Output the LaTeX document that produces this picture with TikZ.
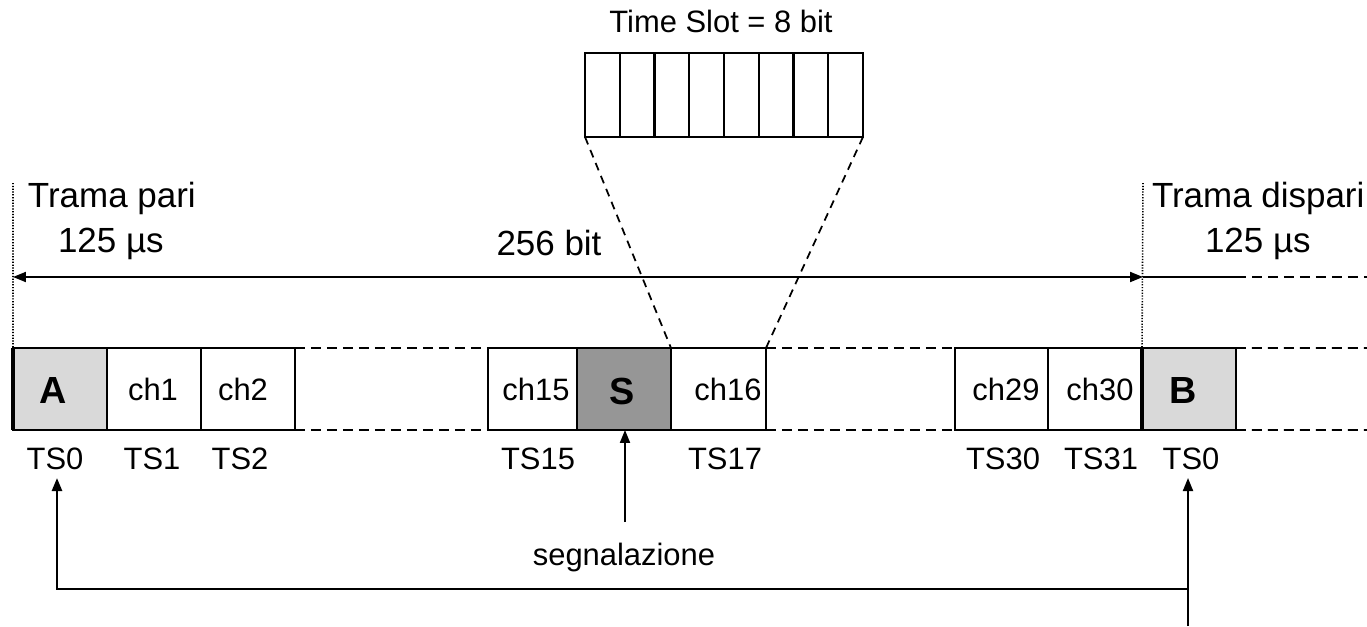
\documentclass[tikz,border=0pt]{standalone}
\usepackage{fontspec}
\setmainfont{Liberation Sans}
\usetikzlibrary{arrows.meta}
\begin{document}
\begin{tikzpicture}[x=0.02cm,y=-0.02cm,
  every node/.style={inner sep=0pt,outer sep=0pt},
  bigtext/.style={font=\fontsize{19.9pt}{24pt}\selectfont},
  smalltext/.style={font=\fontsize{17.6pt}{21pt}\selectfont},
  slotname/.style={font=\fontsize{21.5pt}{25pt}\selectfont\bfseries},
  slotbox/.style={draw,line width=1.1pt,minimum height=1.64cm,minimum width=1.88cm},
  framebox/.style={slotbox,fill=black!15},
  sigbox/.style={slotbox,fill=black!41},
  gap/.style={line width=1.1pt,dash pattern=on 0.2cm off 0.12cm},
  boundary/.style={line width=0.9pt,dash pattern=on 0.7pt off 0.9pt},
  zoomline/.style={line width=1pt,dash pattern=on 0.16cm off 0.12cm},
  tip/.style={-{Triangle[length=0.26cm,width=0.2cm]}},
  link/.style={line width=1.1pt}]
\useasboundingbox (0,0) rectangle (1367,626);

% one 8-bit time slot
\node[draw,line width=1.1pt,minimum width=5.56cm,minimum height=1.68cm] (bits) at (724,95) {};
\foreach \i in {1,...,7}
  \draw[line width=1.2pt] (585+\i*34.75,53) -- (585+\i*34.75,137);
\node[smalltext,anchor=base] (bitslabel) at (721,32) {Time Slot = 8 bit};

% frame boundaries
\coordinate (topL) at (13,183);
\coordinate (topR) at (1143,183);

% slots of the frame
\node[framebox] (A)    at (60,389) {};
\node[slotbox]  (c1)   at (154,389) {};
\node[slotbox]  (c2)   at (248,389) {};
\node[slotbox,minimum width=1.78cm] (c15) at (532.5,389) {};
\node[sigbox]   (S)    at (624,389) {};
\node[slotbox,minimum width=1.90cm] (c16) at (718.5,389) {};
\node[slotbox,minimum width=1.86cm] (c29) at (1001.5,389) {};
\node[slotbox]  (c30)  at (1095,389) {};
\node[framebox] (B)    at (1189,389) {};

\draw[line width=2pt] (A.north west) -- (A.south west);
\draw[line width=2pt] (c30.north east) -- (c30.south east);

% omitted slots
\draw[gap] (c2.north east) -- (c15.north west);
\draw[gap] (c2.south east) -- (c15.south west);
\draw[gap] (c16.north east) -- (c29.north west);
\draw[gap] (c16.south east) -- (c29.south west);
\coordinate (endT) at (1367,348);
\coordinate (endB) at (1367,430);
\draw[gap] (B.north east) -- (endT);
\draw[gap] (B.south east) -- (endB);

% slot contents
\node[slotname] at (53,391) {A};
\node[smalltext] at (153,389) {ch1};
\node[smalltext] at (243,389) {ch2};
\node[smalltext] at (536,389) {ch15};
\node[slotname] at (622,391) {S};
\node[smalltext] at (728,389) {ch16};
\node[smalltext] at (1006,389) {ch29};
\node[smalltext] at (1100,389) {ch30};
\node[slotname] at (1183,391) {B};

% slot names
\node[smalltext,anchor=base] (ts0)  at (55,469) {TS0};
\node[smalltext,anchor=base] (ts1)  at (152,469) {TS1};
\node[smalltext,anchor=base] (ts2)  at (240,469) {TS2};
\node[smalltext,anchor=base] (ts15) at (538,469) {TS15};
\node[smalltext,anchor=base] (ts17) at (725,469) {TS17};
\node[smalltext,anchor=base] (ts30) at (1003,469) {TS30};
\node[smalltext,anchor=base] (ts31) at (1101,469) {TS31};
\node[smalltext,anchor=base] (ts0b) at (1191,469) {TS0};

% frame limits and length
\draw[boundary] (topL) -- (A.north west);
\draw[boundary] (topR) -- (B.north west);
\coordinate (arL) at (13,277);
\coordinate (arR) at (1143,277);
\coordinate (arM) at (1236,277);
\coordinate (arE) at (1367,277);
\draw[link,{Triangle[length=0.26cm,width=0.2cm]}-{Triangle[length=0.26cm,width=0.2cm]}] (arL) -- (arR);
\draw[link] (arR) -- (arM);
\draw[gap] (arM) -- (arE);

\node[bigtext,anchor=base west] (pari)  at (28,207) {Trama pari};
\node[bigtext,anchor=base west] (pariT) at (58,252) {125 µs};
\node[bigtext,anchor=base] (len) at (549,255) {256 bit};
\node[bigtext,anchor=base west] (disp)  at (1152,207) {Trama dispari};
\node[bigtext,anchor=base west] (dispT) at (1205,252) {125 µs};

% expansion of the time slot
\draw[zoomline] (bits.south west) -- (S.north east);
\draw[zoomline] (bits.south east) -- (c16.north east);

% signalling
\coordinate (sigfoot) at (625,522);
\draw[link,tip] (sigfoot) -- (S.south -| sigfoot);
\node[smalltext,anchor=base] (sig) at (624,565) {segnalazione};

% multiframe loop between the two TS0
\coordinate (loopIn) at (1188,626);
\coordinate (loopJ) at (1188,589);
\coordinate (tipR) at (1188,478);
\coordinate (tipL) at (57,478);
\draw[link,tip] (loopIn) -- (tipR);
\draw[link,line width=1.4pt,tip] (loopJ) -| (tipL);
\end{tikzpicture}
\end{document}
